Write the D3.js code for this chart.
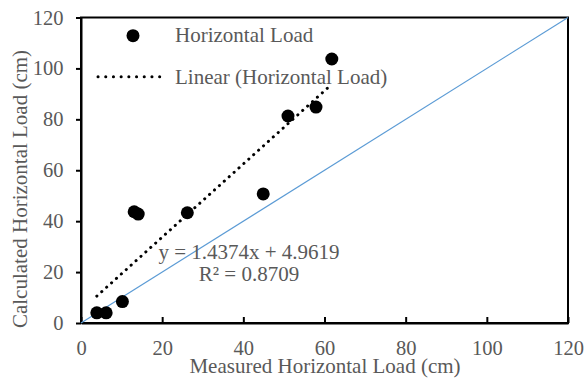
<!DOCTYPE html>
<html>
<head>
<meta charset="utf-8">
<script src="https://cdn.jsdelivr.net/npm/d3@7"></script>
<style>
  body { margin: 0; background: #fff; }
  text { font-family: "Liberation Serif", "Times New Roman", serif; fill: #595959; }
</style>
</head>
<body>
<div id="chart"></div>
<script>
// data
const measured   = [3.9, 6.2, 10.2, 13.1, 14.1, 26.2, 44.9, 51.0, 57.9, 61.8];
const calculated = [4.0, 4.0, 8.4, 43.7, 42.8, 43.3, 50.7, 81.3, 84.8, 103.7];
const xTicks = [0, 20, 40, 60, 80, 100, 120];
const yTicks = [0, 20, 40, 60, 80, 100, 120];
const trendSlope = 1.4374;
const trendIntercept = 4.9619;
const trendLabels = ["y = 1.4374x + 4.9619", "R\u00b2 = 0.8709"];
const legendLabels = ["Horizontal Load", "Linear (Horizontal Load)"];

const W = 586, H = 378;
const margin = { left: 81, right: 18, top: 17.5, bottom: 55 };
const fontSize = 21, tickFont = 20.5;

const svg = d3.select("#chart").append("svg")
  .attr("width", W).attr("height", H);

const x = d3.scaleLinear().domain([0, 120]).range([margin.left, W - margin.right]);
const y = d3.scaleLinear().domain([0, 120]).range([H - margin.bottom, margin.top]);

const points = measured.map((m, i) => ({ x: m, y: calculated[i] }));

// frame
svg.append("rect")
  .attr("x", x(0)).attr("y", y(120))
  .attr("width", x(120) - x(0)).attr("height", y(0) - y(120))
  .attr("fill", "none").attr("stroke", "#000").attr("stroke-width", 2);

// axes
const xAxis = svg.append("g")
  .attr("transform", `translate(0,${y(0)})`)
  .call(d3.axisBottom(x).tickValues(xTicks).tickSizeInner(-6).tickSizeOuter(0));
const yAxis = svg.append("g")
  .attr("transform", `translate(${x(0)},0)`)
  .call(d3.axisLeft(y).tickValues(yTicks).tickSizeInner(5).tickSizeOuter(0).tickPadding(12.5));

[xAxis, yAxis].forEach(a => {
  a.select(".domain").attr("stroke", "#000").attr("stroke-width", 2);
  a.selectAll(".tick line").attr("stroke", "#000").attr("stroke-width", 2);
  a.selectAll(".tick text")
    .attr("font-family", "Liberation Serif, Times New Roman, serif")
    .attr("font-size", tickFont).attr("fill", "#595959");
});
xAxis.selectAll(".tick text").attr("y", 32).attr("dy", 0);
yAxis.selectAll(".tick text").attr("dy", "0.32em");

// y = x reference line
svg.append("line")
  .attr("x1", x(0)).attr("y1", y(0))
  .attr("x2", x(120)).attr("y2", y(120))
  .attr("stroke", "#5b9bd5").attr("stroke-width", 1.2);

// trendline
const xMin = d3.min(measured), xMax = d3.max(measured);
svg.append("line")
  .attr("x1", x(xMin)).attr("y1", y(trendSlope * xMin + trendIntercept))
  .attr("x2", x(xMax)).attr("y2", y(trendSlope * xMax + trendIntercept))
  .attr("stroke", "#000").attr("stroke-width", 3)
  .attr("stroke-linecap", "round").attr("stroke-dasharray", "0.1 6.5");

// points
svg.selectAll("circle.pt")
  .data(points)
  .enter().append("circle")
  .attr("class", "pt")
  .attr("cx", d => x(d.x)).attr("cy", d => y(d.y))
  .attr("r", 6.5).attr("fill", "#000");

// trendline equation
svg.append("text")
  .attr("text-anchor", "middle")
  .attr("font-size", fontSize)
  .selectAll("tspan")
  .data(trendLabels)
  .enter().append("tspan")
  .attr("x", 249)
  .attr("y", (d, i) => 259 + i * 22)
  .text(d => d);

// legend
const legend = svg.append("g");
legend.append("circle").attr("cx", 133).attr("cy", 35.7).attr("r", 6.5).attr("fill", "#000");
legend.append("line")
  .attr("x1", 98).attr("y1", 76.7).attr("x2", 167).attr("y2", 76.7)
  .attr("stroke", "#000").attr("stroke-width", 3)
  .attr("stroke-linecap", "round").attr("stroke-dasharray", "0.1 7.6");
legend.selectAll("text.leg")
  .data(legendLabels)
  .enter().append("text")
  .attr("class", "leg")
  .attr("x", 175).attr("y", (d, i) => 42 + i * 41.5)
  .attr("font-size", fontSize)
  .text(d => d);

// axis titles
svg.append("text")
  .attr("text-anchor", "middle")
  .attr("x", 325).attr("y", 373)
  .attr("font-size", fontSize)
  .text("Measured Horizontal Load (cm)");
svg.append("text")
  .attr("text-anchor", "middle")
  .attr("transform", `translate(26.5,189) rotate(-90)`)
  .attr("font-size", fontSize)
  .text("Calculated Horizontal Load (cm)");
</script>
</body>
</html>
